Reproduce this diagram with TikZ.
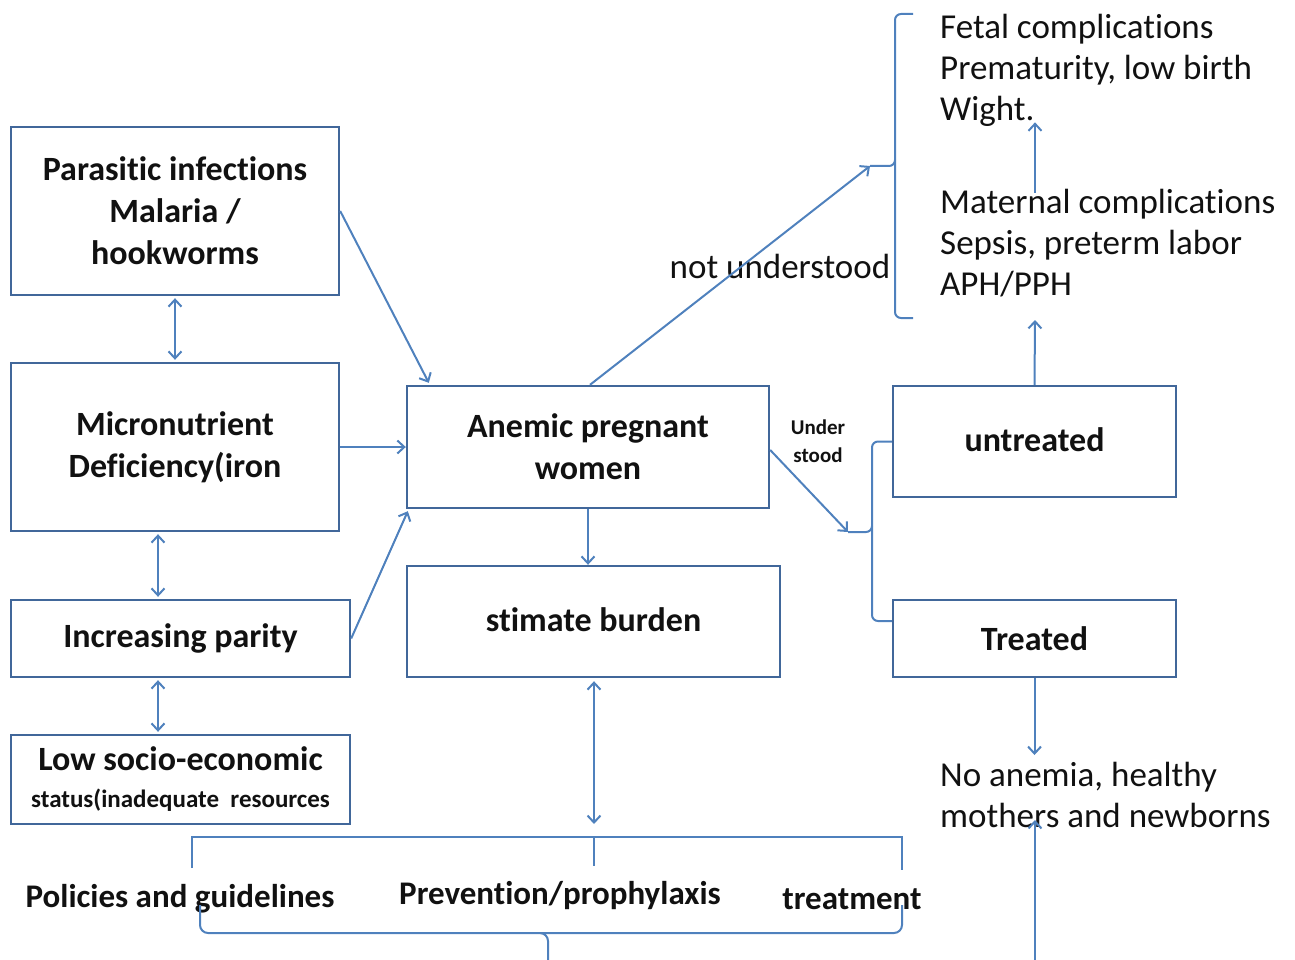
\documentclass[tikz,border=0pt]{standalone}
\usepackage{fontspec}
\setmainfont{Carlito}[Ligatures=NoCommon]
\usetikzlibrary{calc,arrows.meta}
\definecolor{ln}{HTML}{4F81BD}
\definecolor{bx}{HTML}{41679A}
\definecolor{tx}{HTML}{111111}
\begin{document}
\begin{tikzpicture}[x=1pt,y=-1pt,
  box/.style={draw=bx, line width=2.4pt, inner sep=0pt, align=center, text=tx,
    font=\fontsize{34}{42}\selectfont\bfseries},
  conn/.style={draw=ln, line width=2pt},
  arr/.style={conn, -{Straight Barb[length=7pt,width=13pt]}},
  darr/.style={conn, {Straight Barb[length=7pt,width=13pt]}-{Straight Barb[length=7pt,width=13pt]}},
  rtxt/.style={align=left, anchor=west, inner sep=0pt, text=tx, font=\fontsize{35}{41}\selectfont},
  btxt/.style={inner sep=0pt, text=tx, font=\fontsize{33}{38}\selectfont\bfseries}]
\useasboundingbox (0,0) rectangle (1295,960);

% boxes
\node[box, minimum width=328pt, minimum height=168pt] (P) at (175,211) {Parasitic infections\\Malaria /\\hookworms};
\node[box, minimum width=328pt, minimum height=168pt] (M) at (175,447) {Micronutrient\\Deficiency(iron};
\node[box, minimum width=339pt, minimum height=77pt] (Par) at (180.5,638.5) {Increasing parity};
\node[box, minimum width=339pt, minimum height=89pt] (L) at (180.5,779.5) {Low socio-economic\\[-5pt]{\fontsize{25}{26}\selectfont status(inadequate\ \ resources}};
\node[box, minimum width=362pt, minimum height=122pt] (A) at (588,447) {Anemic pregnant\\women};
\node[box, minimum width=373pt, minimum height=111pt] (S) at (593.5,621.5) {\raisebox{4pt}{stimate burden}};
\node[box, minimum width=283pt, minimum height=111pt] (U) at (1034.5,441.5) {\raisebox{3pt}{untreated}};
\node[box, minimum width=283pt, minimum height=77pt] (T) at (1034.5,638.5) {Treated};

% right texts
\node[rtxt] (fetal) at (940,70) {Fetal complications\\Prematurity, low birth\\Wight.};
\node[rtxt] (mat) at (940,243) {Maternal complications\\Sepsis, preterm labor\\APH/PPH};
\node[rtxt] (noan) at (940,795) {No anemia, healthy\\mothers and newborns};
\node[rtxt, anchor=center] (nu) at (780,266) {not understood};
\node[align=center, inner sep=0pt, text=tx, font=\fontsize{21}{28}\selectfont\bfseries] (us) at (818,441) {Under\\stood};

% bottom labels
\node[btxt] (pol) at (180,899) {Policies and guidelines};
\node[btxt] (prev) at (560,896) {Prevention/prophylaxis};
\node[btxt] (trt) at (852,899) {treatment};

% coordinates
\coordinate (fbr) at (870,166);
\coordinate (ubr) at (848,532);
\coordinate (ax) at (1035,0);
\coordinate (matb) at (1035,320);
\coordinate (topbr) at (594,837);
\coordinate (botbr) at (548,960);
\coordinate (noanb) at (1035,960);

% left arrows
\draw[arr] (P.east) -- ($(A.north west)+(23,-2)$);
\draw[arr] (M.east) -- (A.west);
\draw[arr] (Par.east) -- ($(A.south west)+(2,2)$);
\draw[darr] ([yshift=-2pt]P.south) -- ([yshift=2pt]M.north);
\draw[darr] ([xshift=-17pt,yshift=-2pt]M.south) -- ([xshift=-22.5pt,yshift=2pt]Par.north);
\draw[darr] ([xshift=-22.5pt,yshift=-2pt]Par.south) -- ([xshift=-22.5pt,yshift=2pt]L.north);

% centre arrows
\draw[arr] (A.south) -- (A.south |- S.north);
\draw[darr] ([xshift=0.5pt,yshift=-3pt]S.south) -- ([yshift=13pt]topbr);
\draw[arr] ([xshift=2pt]A.north) -- (fbr);
\draw[arr] ([yshift=-3pt]A.east) -- (ubr);

% right bracket (complications)
\draw[conn, rounded corners=6pt] (913,14) -- (895,14) -- (895,166) -- (fbr);
\draw[conn, rounded corners=6pt] (895,160) -- (895,318) -- (913,318);

% untreated / treated bracket
\draw[conn, rounded corners=6pt] (U.west) -- (872,441.5) -- (872,532) -- (ubr);
\draw[conn, rounded corners=6pt] (872,526) -- (872,621) -- ([yshift=17.5pt]T.west);

% right vertical arrows
\draw[arr] (U.north) -- (matb);
\draw[arr] ([yshift=-4pt]mat.north -| ax) -- ([yshift=4pt]fetal.south -| ax);
\draw[arr] (T.south) -- (T.south |- 0,755);
\draw[arr] (noanb) -- (1035,820);

% bottom brackets
\draw[conn] (192,868) -- (192,837) -- (902,837) -- (902,870);
\draw[conn] (topbr) -- (594,866);
\draw[conn, rounded corners=8pt] (200,905) -- (200,933) -- (548,933) -- (botbr);
\draw[conn, rounded corners=8pt] (540,933) -- (902,933) -- (902,905);
\end{tikzpicture}
\end{document}
